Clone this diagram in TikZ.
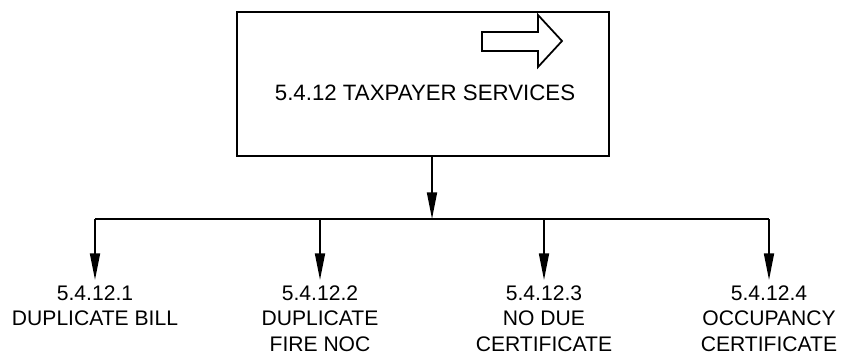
\documentclass[tikz,border=0pt]{standalone}
\usepackage{fontspec}
\setmainfont{Liberation Sans}
\usetikzlibrary{positioning,arrows.meta}

\begin{document}
\begin{tikzpicture}[x=0.03cm,y=-0.03cm,line width=1.5pt,
box/.style={draw,rectangle,minimum width=11.16cm,minimum height=4.32cm,inner sep=0pt},
title/.style={font=\fontsize{19}{23}\selectfont,inner sep=0pt,anchor=base},
item/.style={font=\fontsize{18}{21.6}\selectfont,align=center,inner xsep=0pt,inner ysep=0.15cm,anchor=north},
link/.style={-{Triangle[length=0.8cm,width=0.3cm]}}]
\useasboundingbox (0,0) rectangle (843,356);
\node (svc) [box] at (423,84) {};
\node (svctext) [title] at (425,100) {5.4.12 TAXPAYER SERVICES};
\draw (482,32) -- (538,32) -- (538,15) -- (562,41) -- (538,67) -- (538,51) -- (482,51) -- cycle;
\coordinate (bus) at (432,219);
\node (dupbill) [item] at (95,280) {5.4.12.1\\DUPLICATE BILL};
\node (dupfire) [item] at (320,280) {5.4.12.2\\DUPLICATE\\FIRE NOC};
\node (nodue) [item] at (544,280) {5.4.12.3\\NO DUE\\CERTIFICATE};
\node (occupancy) [item] at (769,280) {5.4.12.4\\OCCUPANCY\\CERTIFICATE};
\draw [link] (svc.south -| bus) -- (bus);
\draw (bus -| dupbill) -- (bus -| occupancy);
\foreach \n in {dupbill,dupfire,nodue,occupancy}
  \draw [link] (bus -| \n) -- (\n.north);
\end{tikzpicture}
\end{document}
